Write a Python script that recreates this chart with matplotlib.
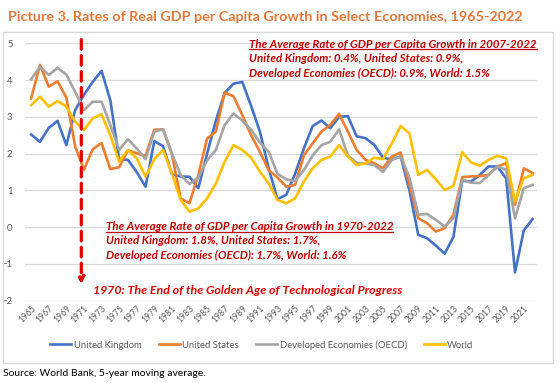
import numpy as np
import matplotlib
matplotlib.use("Agg")
from matplotlib import pyplot as plt
from matplotlib.patches import Rectangle
from matplotlib.lines import Line2D

plt.rcParams['font.family'] = ['Lato', 'DejaVu Sans']

years = list(range(1965, 2023))

uk = [2.52, 2.32, 2.70, 2.89, 2.23, 3.18, 3.60, 3.95, 4.25, 3.45,
      1.85, 1.83, 1.50, 1.10, 2.34, 2.20, 1.44, 1.38, 1.37, 1.06,
      2.00, 2.90, 3.65, 3.90, 3.95, 3.30, 2.60, 1.60, 0.76, 0.88,
      1.45, 2.14, 2.75, 2.90, 2.69, 3.00, 3.02, 2.47, 2.42, 2.24,
      1.89, 1.84, 1.92, 1.00, -0.21, -0.30, -0.50, -0.72, -0.27, 1.26,
      1.24, 1.42, 1.65, 1.65, 1.32, -1.23, -0.09, 0.22]

us = [3.50, 4.41, 3.82, 3.97, 3.52, 2.20, 1.56, 2.12, 2.29, 1.58,
      1.63, 2.09, 2.01, 1.94, 2.65, 2.66, 1.98, 0.78, 0.65, 1.42,
      2.41, 2.60, 3.66, 3.56, 3.05, 2.50, 2.05, 1.55, 1.35, 1.10,
      1.15, 1.95, 2.28, 2.60, 2.78, 3.08, 2.60, 2.10, 1.83, 1.74,
      1.60, 1.92, 2.03, 1.15, 0.24, 0.11, -0.12, -0.03, 0.34, 1.36,
      1.38, 1.39, 1.42, 1.65, 1.74, 0.61, 1.60, 1.47]

oecd = [4.02, 4.36, 4.14, 4.33, 4.15, 3.68, 3.18, 3.41, 3.41, 2.78,
        2.10, 2.39, 2.14, 1.85, 2.60, 2.66, 2.00, 1.42, 1.17, 1.35,
        1.82, 2.10, 2.78, 3.09, 2.90, 2.65, 2.30, 2.05, 1.45, 1.30,
        1.25, 1.55, 1.95, 2.23, 2.32, 2.66, 1.95, 1.75, 1.73, 1.69,
        1.50, 1.83, 1.92, 1.35, 0.34, 0.36, 0.20, 0.02, 0.24, 1.29,
        1.21, 1.20, 1.42, 1.65, 1.56, 0.24, 1.06, 1.15]

world = [3.32, 3.55, 3.28, 3.43, 3.28, 2.87, 2.64, 2.96, 3.07, 2.50,
         1.78, 2.10, 1.87, 1.37, 1.85, 2.10, 1.46, 0.74, 0.42, 0.51,
         0.78, 1.19, 1.78, 2.23, 2.10, 1.89, 1.51, 1.19, 0.74, 0.65,
         0.78, 1.24, 1.60, 1.83, 1.92, 2.23, 1.92, 1.69, 1.73, 1.89,
         1.85, 2.28, 2.75, 2.55, 1.42, 1.56, 1.30, 1.01, 1.12, 2.04,
         1.76, 1.67, 1.83, 1.94, 1.87, 0.70, 1.33, 1.42]

series = [("United Kingdom", uk, '#4472C4'),
          ("United States", us, '#ED7D31'),
          ("Developed Economies (OECD)", oecd, '#A5A5A5'),
          ("World", world, '#FFC000')]

red = '#C00000'

fig = plt.figure(figsize=(5.6, 3.83), dpi=100)
fig.patch.set_facecolor('white')

# chart frame
fig.patches.append(Rectangle((3 / 560, 1 - 363 / 383), 550 / 560, 331 / 383,
                             transform=fig.transFigure, fill=False,
                             edgecolor='#D9D9D9', linewidth=1))

ax = fig.add_axes([25 / 560, 1 - 300.7 / 383, 512 / 560, 257.4 / 383])
for name, vals, col in series:
    ax.plot(years, vals, color=col, linewidth=1.9, label=name)

ax.set_xlim(1964.3, 2022.5)
ax.set_ylim(-2, 5)
ax.set_yticks(range(-2, 6))
ax.set_xticks(years[::2])
ax.set_xticklabels([str(y) for y in years[::2]], rotation=45, ha='right',
                   rotation_mode='anchor', fontsize=6.2, color='#595959')
ax.tick_params(axis='y', labelsize=6.8, labelcolor='#595959', length=0, pad=9)
ax.tick_params(axis='x', length=0, pad=2)
ax.grid(axis='y', color='#D9D9D9', linewidth=0.9)
ax.set_axisbelow(True)
for s in ax.spines.values():
    s.set_visible(False)

# 1970 marker
ax.annotate('', xy=(1970.7, -1.55), xytext=(1970.7, 5.1),
            arrowprops=dict(arrowstyle='-|>', color='#E00000', lw=2.3,
                            linestyle=(0, (3, 2)), mutation_scale=9,
                            shrinkA=0, shrinkB=0),
            annotation_clip=False)

txt_kw = dict(color=red, fontweight='bold', fontstyle='italic',
              fontsize=8.25, transform=fig.transFigure, va='center')

h1 = fig.text(249 / 560, 1 - 44 / 383,
              "The Average Rate of GDP per Capita Growth in 2007-2022", **txt_kw)
fig.text(249 / 560, 1 - 58.5 / 383,
         "United Kingdom: 0.4%, United States: 0.9%,", **txt_kw)
fig.text(249 / 560, 1 - 73 / 383,
         "Developed Economies (OECD): 0.9%, World: 1.5%", **txt_kw)

h2 = fig.text(106 / 560, 1 - 227 / 383,
              "The Average Rate of GDP per Capita Growth in 1970-2022", **txt_kw)
fig.text(106 / 560, 1 - 241 / 383,
         "United Kingdom: 1.8%, United States: 1.7%,", **txt_kw)
fig.text(106 / 560, 1 - 255.5 / 383,
         "Developed Economies (OECD): 1.7%, World: 1.6%", **txt_kw)

kw3 = dict(txt_kw)
kw3['fontsize'] = 8.9
kw3['color'] = '#E00000'
fig.text(93 / 560, 1 - 291 / 383,
         "1970: The End of the Golden Age of Technological Progress", **kw3)

fig.text(8 / 560, 1 - 17 / 383,
         "Picture 3. Rates of Real GDP per Capita Growth in Select Economies, 1965-2022",
         color='#E2783A', fontweight='bold', fontsize=10.4, va='center')

fig.text(3 / 560, 1 - 373 / 383, "Source: World Bank, 5-year moving average.",
         fontsize=7.5, color='black', va='center')

ax.legend(loc='center', bbox_to_anchor=(262 / 560, 1 - 345 / 383),
          bbox_transform=fig.transFigure, ncol=4, frameon=False,
          fontsize=6.8, handlelength=2.2, handletextpad=0.3,
          columnspacing=1.8, labelcolor='#595959')

# underline the headings
fig.canvas.draw()
r = fig.canvas.get_renderer()
for h in (h1, h2):
    bb = h.get_window_extent(r).transformed(fig.transFigure.inverted())
    fig.lines.append(Line2D([bb.x0, bb.x1], [bb.y0 + 0.002, bb.y0 + 0.002],
                            transform=fig.transFigure, color=red, linewidth=0.9))

fig.savefig('out.png', dpi=100)
